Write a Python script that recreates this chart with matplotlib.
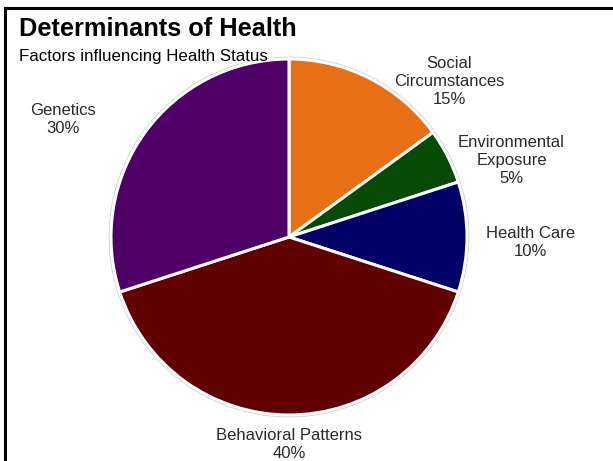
import matplotlib
matplotlib.use("Agg")
import matplotlib.pyplot as plt
from matplotlib.lines import Line2D
from matplotlib.patches import Circle

categories = ["Social\nCircumstances", "Environmental\nExposure", "Health Care",
              "Behavioral Patterns", "Genetics"]
shares = [15, 5, 10, 40, 30]
colors = ["#E86F14", "#064A06", "#000066", "#600000", "#4E0066"]
# label anchor points in pie-radius units (centre of each text block)
label_pos = [(0.90, 0.876), (1.25, 0.427), (1.355, -0.03), (0.0, -1.165), (-1.27, 0.66)]

W, H = 613, 461
cx, cy, R = 289, 237, 178

plt.rcParams["font.family"] = ["Liberation Sans", "DejaVu Sans"]
fig = plt.figure(figsize=(W / 100, H / 100), dpi=100)
ax = fig.add_axes([0, 0, 1, 1])

# soft grey rim around the pie
ax.add_patch(Circle((0, 0), 1.006, facecolor="none", edgecolor="#d0d0d0",
                    linewidth=1.8, zorder=0))
ax.pie(shares, colors=colors, startangle=90, counterclock=False, radius=1.0,
       center=(0, 0), frame=True,
       wedgeprops=dict(edgecolor="white", linewidth=2.2))
ax.set_xlim(-cx / R, (W - cx) / R)
ax.set_ylim(-(H - cy) / R, cy / R)
ax.set_aspect("auto")
ax.axis("off")

for name, val, (lx, ly) in zip(categories, shares, label_pos):
    ax.text(lx, ly, f"{name}\n{val}%", ha="center", va="center",
            fontsize=12, color="#2a2a2a", linespacing=1.25)

fig.text(19 / W, 1 - 29 / H, "Determinants of Health", fontsize=18.3,
         fontweight="bold", ha="left", va="center", color="black")
fig.text(19 / W, 1 - 56 / H, "Factors influencing Health Status", fontsize=12.2,
         ha="left", va="center", color="black")

# frame along the top and left edges
fig.add_artist(Line2D([5 / W, 1], [1 - 8.5 / H, 1 - 8.5 / H], color="black",
                      linewidth=2.2, transform=fig.transFigure))
fig.add_artist(Line2D([5 / W, 5 / W], [1 - 8.5 / H, 0], color="black",
                      linewidth=2.2, transform=fig.transFigure))

fig.savefig("out.png", dpi=100)
